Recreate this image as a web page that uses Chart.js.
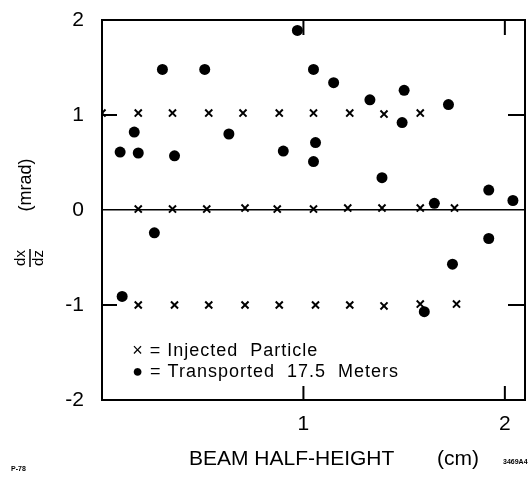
<!DOCTYPE html>
<html>
<head>
<meta charset="utf-8">
<script src="https://cdn.jsdelivr.net/npm/chart.js@4/dist/chart.umd.min.js"></script>
<style>
  body { margin: 0; background: #fff; }
  #wrap { width: 532px; height: 478px; }
</style>
</head>
<body>
<div id="wrap"><canvas id="myChart" width="532" height="478"></canvas></div>
<script>
// injected particles, three rows
const injTopX = [0, 0.18, 0.35, 0.53, 0.70, 0.88, 1.05, 1.23, 1.40, 1.58];
const injTopY = [1.02, 1.02, 1.02, 1.02, 1.02, 1.02, 1.02, 1.02, 1.01, 1.02];
const injMidX = [0.18, 0.35, 0.52, 0.71, 0.87, 1.05, 1.22, 1.39, 1.58, 1.75];
const injMidY = [0.01, 0.01, 0.01, 0.02, 0.01, 0.01, 0.02, 0.02, 0.02, 0.02];
const injLowX = [0.18, 0.36, 0.53, 0.71, 0.88, 1.06, 1.23, 1.40, 1.58, 1.76];
const injLowY = [-1.0, -1.0, -1.0, -1.0, -1.0, -1.0, -1.0, -1.01, -0.99, -0.99];

// transported 17.5 m
const transX = [0.09, 0.10, 0.16, 0.18, 0.26, 0.30, 0.36, 0.51, 0.63, 0.90, 0.97, 1.05, 1.05, 1.06,
                1.15, 1.33, 1.39, 1.49, 1.50, 1.60, 1.65, 1.72, 1.74, 1.92, 1.92, 2.04];
const transY = [0.61, -0.91, 0.82, 0.60, -0.24, 1.48, 0.57, 1.48, 0.80, 0.62, 1.89, 1.48, 0.51, 0.71,
                1.34, 1.16, 0.34, 0.92, 1.26, -1.07, 0.07, 1.11, -0.57, 0.21, -0.30, 0.10];

const yTicks = [-2, -1, 0, 1, 2];
const xTicks = [1, 2];
const legendLines = ['\u00d7 = Injected  Particle', '\u25cf = Transported  17.5  Meters'];
const xTitle = 'BEAM HALF-HEIGHT';
const xUnit = '(cm)';

function pts(xs, ys) {
    return xs.map((v, i) => ({ x: v, y: ys[i] }));
}

const FONT = "'Liberation Sans', Arial, sans-serif";
const CLEAR = 'rgba(0,0,0,0)';

// frame, inner tick marks, legend text and axis titles
const extras = {
    id: 'extras',
    afterDraw(chart) {
        const ctx = chart.ctx;
        const a = chart.chartArea;
        const x = chart.scales.x, y = chart.scales.y;
        ctx.save();
        ctx.strokeStyle = '#000';
        ctx.lineWidth = 2;
        ctx.strokeRect(a.left, a.top, a.right - a.left, a.bottom - a.top);

        ctx.beginPath();
        [1, -1].forEach(v => {
            const py = y.getPixelForValue(v);
            ctx.moveTo(a.left, py); ctx.lineTo(a.left + 15, py);
            ctx.moveTo(a.right, py); ctx.lineTo(a.right - 17, py);
        });
        xTicks.forEach(v => {
            const px = x.getPixelForValue(v);
            ctx.moveTo(px, a.top); ctx.lineTo(px, a.top + 15);
            ctx.moveTo(px, a.bottom); ctx.lineTo(px, a.bottom - 14);
        });
        ctx.stroke();

        // legend inside plot
        ctx.fillStyle = '#000';
        ctx.font = '18px ' + FONT;
        ctx.letterSpacing = '1px';
        ctx.textBaseline = 'alphabetic';
        ctx.fillText(legendLines[0], x.getPixelForValue(0.15), y.getPixelForValue(-1.54));
        ctx.fillText(legendLines[1], x.getPixelForValue(0.15), y.getPixelForValue(-1.76));
        ctx.letterSpacing = '0px';

        // x title
        ctx.font = '21px ' + FONT;
        ctx.fillText(xTitle, 189, 465);
        ctx.fillText(xUnit, 437, 465);

        // small corner marks
        ctx.font = 'bold 7px ' + FONT;
        ctx.fillText('P-78', 11, 471);
        ctx.fillText('3469A4', 503, 464);

        // y title: dx/dz (mrad), rotated
        ctx.translate(30, 215);
        ctx.rotate(-Math.PI / 2);
        ctx.textAlign = 'center';
        ctx.textBaseline = 'middle';
        ctx.font = '18px ' + FONT;
        ctx.fillText('(mrad)', 30, -4);
        ctx.font = '15px ' + FONT;
        ctx.fillText('dx', -43, -9);
        ctx.fillText('dz', -43, 9);
        ctx.lineWidth = 1.5;
        ctx.beginPath();
        ctx.moveTo(-52, 0); ctx.lineTo(-34, 0);
        ctx.stroke();
        ctx.restore();
    }
};

new Chart(document.getElementById('myChart'), {
    type: 'scatter',
    data: {
        datasets: [
            { label: 'Injected', data: pts(injTopX, injTopY), pointStyle: 'crossRot', radius: 5, borderColor: '#000', borderWidth: 2 },
            { label: 'Injected', data: pts(injMidX, injMidY), pointStyle: 'crossRot', radius: 5, borderColor: '#000', borderWidth: 2 },
            { label: 'Injected', data: pts(injLowX, injLowY), pointStyle: 'crossRot', radius: 5, borderColor: '#000', borderWidth: 2 },
            { label: 'Transported', data: pts(transX, transY), pointStyle: 'circle', radius: 5.5, backgroundColor: '#000', borderColor: '#000', borderWidth: 0 }
        ]
    },
    options: {
        responsive: false,
        animation: false,
        layout: { padding: { top: 20, right: 4, left: 0, bottom: 0 } },
        plugins: { legend: { display: false }, tooltip: { enabled: false } },
        scales: {
            x: {
                type: 'linear',
                min: 0, max: 2.1,
                afterBuildTicks: s => { s.ticks = xTicks.map(v => ({ value: v })); },
                afterFit: s => { s.height = 78; },
                grid: { display: true, drawOnChartArea: false, drawTicks: true, tickLength: 12, color: CLEAR, tickColor: CLEAR },
                border: { display: false },
                ticks: { color: '#000', padding: 0, font: { size: 21, family: FONT } },
                title: { display: false }
            },
            y: {
                type: 'linear',
                min: -2, max: 2,
                afterBuildTicks: s => { s.ticks = yTicks.map(v => ({ value: v })); },
                afterFit: s => { s.width = 102; },
                grid: {
                    drawTicks: true,
                    tickLength: 18,
                    tickColor: CLEAR,
                    color: c => (c.tick && c.tick.value === 0) ? '#000' : CLEAR,
                    lineWidth: 1.5
                },
                border: { display: false },
                ticks: { color: '#000', padding: 0, font: { size: 21, family: FONT } }
            }
        }
    },
    plugins: [extras]
});
</script>
</body>
</html>
